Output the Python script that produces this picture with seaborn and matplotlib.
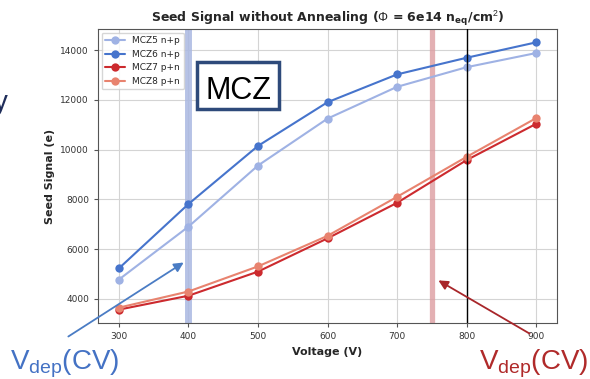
import numpy as np
import pandas as pd
import matplotlib
matplotlib.use("Agg")
import matplotlib.pyplot as plt
import seaborn as sns
from matplotlib.patches import FancyArrowPatch, Rectangle

voltage = [300, 400, 500, 600, 700, 800, 900]
mcz5 = [4770, 6900, 9360, 11250, 12530, 13320, 13890]
mcz6 = [5220, 7810, 10150, 11910, 13030, 13700, 14320]
mcz7 = [3560, 4120, 5090, 6430, 7860, 9580, 11040]
mcz8 = [3640, 4290, 5300, 6530, 8100, 9710, 11270]
labels = ["MCZ5 n+p", "MCZ6 n+p", "MCZ7 p+n", "MCZ8 p+n"]
colors = ["#9fb2e4", "#4674cc", "#cc2a2e", "#e8836f"]

df = pd.concat([
    pd.DataFrame({"Voltage (V)": voltage, "Seed Signal (e)": v, "sample": lab})
    for v, lab in zip([mcz5, mcz6, mcz7, mcz8], labels)
])

sns.set_style("whitegrid", {"axes.edgecolor": "#555555", "grid.color": "#d4d4d4",
                            "xtick.bottom": True, "ytick.left": True})
plt.rcParams["font.family"] = ["DejaVu Sans"]
plt.rcParams["mathtext.fontset"] = "custom"
plt.rcParams["mathtext.rm"] = "Liberation Sans"
plt.rcParams["mathtext.bf"] = "DejaVu Sans:bold"

fig = plt.figure(figsize=(5.9, 3.79), dpi=100)
ax = fig.add_axes([98/590, 1-323/379, (557-98)/590, (323-29)/379])

ax.axvline(400, color="#aab8e2", alpha=0.85, lw=5.0, zorder=1)
ax.axvline(750, color="#dc9ca0", alpha=0.8, lw=3.8, zorder=1)
ax.axvline(800, color="black", lw=1.0, zorder=4)

sns.lineplot(data=df, x="Voltage (V)", y="Seed Signal (e)", hue="sample",
             palette=dict(zip(labels, colors)), marker="o", markersize=6,
             markeredgewidth=0, lw=1.5, ax=ax, zorder=3)

ax.set_xticks([300, 400, 500, 600, 700, 800, 900])
ax.set_yticks([4000, 6000, 8000, 10000, 12000, 14000])
ax.tick_params(axis="both", labelsize=6.5, colors="#555555", labelcolor="#333333",
               length=3, width=0.8)
ax.set_xlabel("Voltage (V)", fontsize=8, fontweight="bold")
ax.set_ylabel("Seed Signal (e)", fontsize=8, fontweight="bold")
ax.set_title(r"Seed Signal without Annealing ($\Phi$ = 6e14 n$_{\mathbf{eq}}$/cm$^{\mathrm{2}}$)",
             fontsize=9, fontweight="bold", pad=5)
for s in ax.spines.values():
    s.set_linewidth(0.8)
leg = ax.legend(loc="upper left", fontsize=6.5, title=None, frameon=True,
                borderaxespad=0.4, handlelength=2.2)
leg.get_frame().set_edgecolor("#cccccc")

# annotations outside the axes
fig.add_artist(FancyArrowPatch((66/590, 1-338/379), (186/590, 1-261/379),
                               transform=fig.transFigure, arrowstyle="-|>",
                               mutation_scale=14, color="#4a7cc4", lw=1.3))
fig.add_artist(FancyArrowPatch((532/590, 1-335/379), (436/590, 1-279/379),
                               transform=fig.transFigure, arrowstyle="-|>",
                               mutation_scale=14, color="#a8262a", lw=1.3))
fig.text(10/590, 1-369/379, r"V$_{\mathrm{dep}}$(CV)", fontsize=20,
         family="Liberation Sans", color="#4472c4", ha="left", va="baseline")
fig.text(479/590, 1-369/379, r"V$_{\mathrm{dep}}$(CV)", fontsize=20,
         family="Liberation Sans", color="#b02a2a", ha="left", va="baseline")

fig.add_artist(Rectangle((197/590, 1-109/379), 82/590, 47/379, transform=fig.transFigure,
                         facecolor="white", edgecolor="#2e4a7a", lw=2.5, zorder=5))
t = fig.text(238/590, 1-99/379, "MCZ", fontsize=22, family="Liberation Sans",
             color="black", ha="center", va="baseline", zorder=6)
fig.text(8/590, 1-110/379, "y", fontsize=20, family="Liberation Sans",
         color="#1f2d5a", ha="right", va="baseline")

fig.savefig("out.png", dpi=100)
